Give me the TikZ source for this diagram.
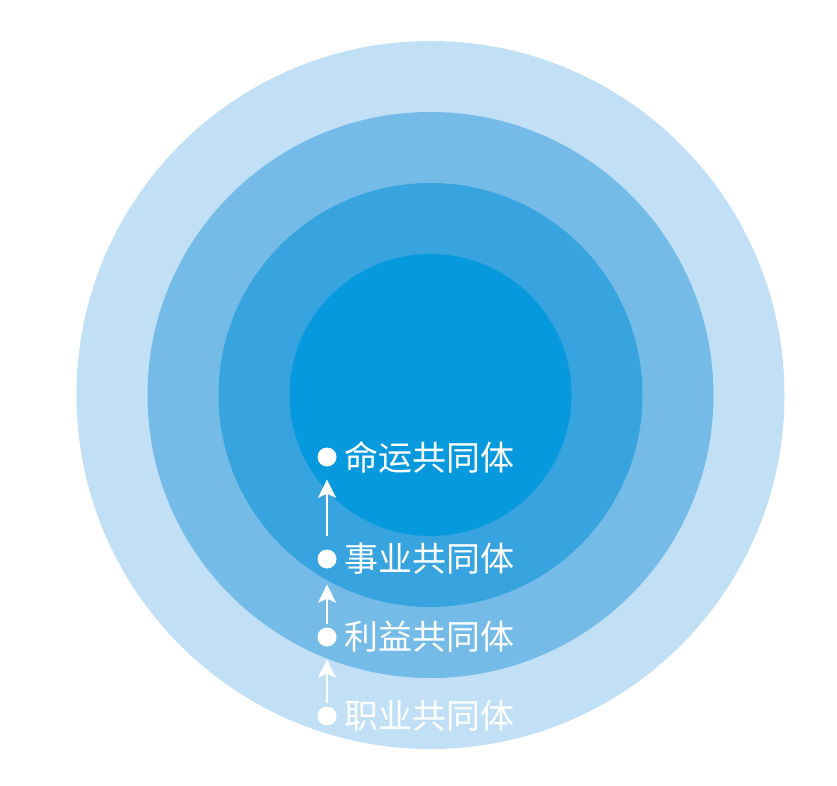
\documentclass[tikz,border=0pt]{standalone}
\usepackage{fontspec}
\newfontfamily\cjk{Noto Sans CJK SC}
\usepackage{tikz}
\usetikzlibrary{arrows.meta,positioning}
\definecolor{ringA}{HTML}{C1E0F5}
\definecolor{ringB}{HTML}{74BBE7}
\definecolor{ringC}{HTML}{37A3DF}
\definecolor{ringD}{HTML}{0699DD}

\begin{document}
\begin{tikzpicture}[x=1pt,y=-1pt,
        dot/.style={circle,fill=white,minimum size=19pt,inner sep=0pt},
        lab/.style={right=8pt of #1,inner sep=0pt,text=white,font=\cjk\fontsize{34}{36}\selectfont},
        up/.style={draw=white,line width=2.6pt,-{Stealth[width=18pt,length=18pt,inset=4pt]}}]

    \useasboundingbox (0,0) rectangle (837,786);

    \coordinate (c) at (430.5,395);
    \fill[ringA] (c) circle (354pt);
    \fill[ringB] (c) circle (283pt);
    \fill[ringC] (c) circle (212pt);
    \fill[ringD] (c) circle (141pt);

    \node[dot] (d1) at (327,457) {};
    \node[dot] (d2) at (327,559) {};
    \node[dot] (d3) at (327,637) {};
    \node[dot] (d4) at (327,716) {};

    \node[lab=d1] (t1) {命运共同体};
    \node[lab=d2] (t2) {事业共同体};
    \node[lab=d3] (t3) {利益共同体};
    \node[lab=d4] (t4) {职业共同体};

    \draw[up,shorten <=13pt,shorten >=13pt] (d2) -- (d1);
    \draw[up,shorten <=3pt,shorten >=16pt] (d3) -- (d2);
    \draw[up,shorten <=3pt,shorten >=13pt] (d4) -- (d3);
    \end{tikzpicture}
\end{document}
